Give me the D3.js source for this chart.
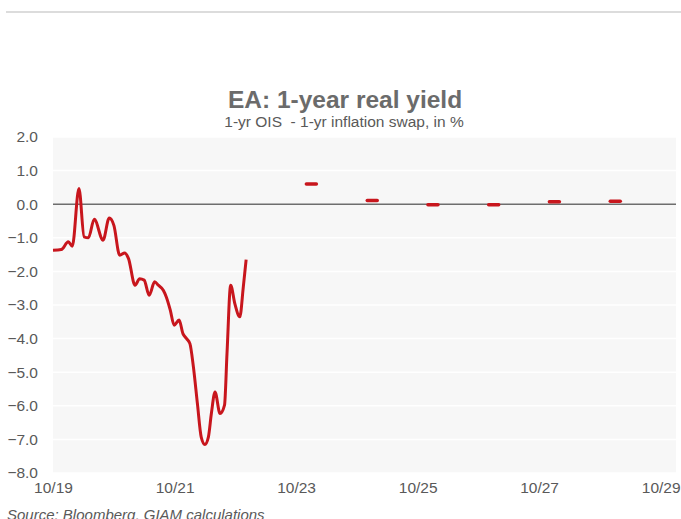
<!DOCTYPE html>
<html>
<head>
<meta charset="utf-8">
<script src="https://cdn.jsdelivr.net/npm/d3@7/dist/d3.min.js"></script>
<style>
  html, body { margin: 0; padding: 0; background: #ffffff; }
  svg { display: block; font-family: "Liberation Sans", Arial, sans-serif; }
</style>
</head>
<body>
<svg id="chart" width="681" height="519"></svg>
<script>
// ---- data ----
const histDates = ["2019-10-01","2019-11-20","2020-01-01","2020-01-25","2020-03-05","2020-04-05","2020-05-01","2020-06-05","2020-07-28","2020-09-03","2020-10-01","2020-11-05","2020-12-05","2020-12-28","2021-02-05","2021-03-05","2021-04-01","2021-05-01","2021-06-03","2021-06-25","2021-07-25","2021-08-12","2021-09-05","2021-09-28","2021-10-28","2021-11-20","2021-12-12","2022-01-01","2022-01-22","2022-02-15","2022-03-10","2022-04-01","2022-04-22","2022-05-10","2022-06-01","2022-07-01","2022-07-28","2022-08-12","2022-09-03","2022-09-28","2022-10-28","2022-11-18","2022-12-05"];
const histValues = [-1.37,-1.35,-1.12,-1.25,0.47,-0.97,-1.00,-0.45,-1.07,-0.41,-0.63,-1.52,-1.45,-1.62,-2.41,-2.22,-2.26,-2.71,-2.31,-2.41,-2.56,-2.76,-3.15,-3.60,-3.45,-3.85,-4.00,-4.15,-4.84,-5.93,-6.93,-7.15,-6.93,-6.23,-5.59,-6.23,-5.98,-4.44,-2.41,-2.96,-3.35,-2.46,-1.65];
const fwdDates = ["2024-01-01","2025-01-01","2026-01-01","2027-01-01","2028-01-01","2029-01-01"];
const fwdValues = [0.60, 0.11, -0.02, -0.02, 0.07, 0.09];
const yTicks = [2, 1, 0, -1, -2, -3, -4, -5, -6, -7, -8];
const xTickDates = ["2019-10-01","2021-10-01","2023-10-01","2025-10-01","2027-10-01","2029-10-01"];
const xDomain = ["2019-10-01", "2030-01-01"];
const yDomain = [-8, 2];
const titleText = "EA: 1-year real yield";
const subtitleText = "1-yr OIS  - 1-yr inflation swap, in %";
const sourceText = "Source: Bloomberg, GIAM calculations";

// ---- layout ----
const parse = d3.utcParse("%Y-%m-%d");
const svg = d3.select("#chart");
const L = 53, R = 676, T = 137, B = 473;

const x = d3.scaleUtc().domain(xDomain.map(parse)).range([L, R]);
const y = d3.scaleLinear().domain(yDomain).range([B, T]);

// top rule
svg.append("line").attr("x1", 6).attr("x2", 681).attr("y1", 12).attr("y2", 12)
  .attr("stroke", "#dcdcdc").attr("stroke-width", 2);

// title
svg.append("text").attr("x", 345).attr("y", 108).attr("text-anchor", "middle")
  .attr("font-size", 24.5).attr("font-weight", "bold").attr("fill", "#6b6b6b").text(titleText);
svg.append("text").attr("x", 344).attr("y", 127).attr("text-anchor", "middle")
  .style("white-space", "pre")
  .attr("font-size", 15.5).attr("fill", "#595959").text(subtitleText);

// plot background
svg.append("rect").attr("x", L).attr("y", T).attr("width", R - L).attr("height", B - T)
  .attr("fill", "#f7f7f7");

// gridlines
svg.append("g").selectAll("line").data(yTicks.filter(v => v !== 0)).join("line")
  .attr("x1", L).attr("x2", R).attr("y1", d => y(d)).attr("y2", d => y(d))
  .attr("stroke", "#ffffff").attr("stroke-width", 1.5);

// y axis labels
const yAxis = d3.axisLeft(y).tickValues(yTicks).tickFormat(d3.format(".1f")).tickSize(0).tickPadding(0);
const gy = svg.append("g").attr("transform", `translate(38,0)`).call(yAxis);
gy.select(".domain").remove();
gy.selectAll("text").attr("font-size", 15.5).attr("fill", "#595959")
  .attr("font-family", "'Liberation Sans', Arial, sans-serif");

// x axis labels
const xAxis = d3.axisBottom(x).tickValues(xTickDates.map(parse)).tickFormat(d3.utcFormat("%m/%y")).tickSize(0).tickPadding(0);
const gx = svg.append("g").attr("transform", `translate(0,${B + 9})`).call(xAxis);
gx.select(".domain").remove();
gx.selectAll("text").attr("font-size", 15.5).attr("fill", "#595959")
  .attr("font-family", "'Liberation Sans', Arial, sans-serif");

// zero line
svg.append("line").attr("x1", L).attr("x2", R).attr("y1", y(0)).attr("y2", y(0))
  .attr("stroke", "#6e6e6e").attr("stroke-width", 1.5);

// historical line
const hist = histDates.map((d, i) => ({ date: parse(d), value: histValues[i] }));
const line = d3.line().x(d => x(d.date)).y(d => y(d.value)).curve(d3.curveMonotoneX);
svg.append("path").datum(hist).attr("d", line)
  .attr("fill", "none").attr("stroke", "#c8161d").attr("stroke-width", 3)
  .attr("stroke-linejoin", "round");

// forward dashes
const fwd = fwdDates.map((d, i) => ({ date: parse(d), value: fwdValues[i] }));
svg.append("g").selectAll("line").data(fwd).join("line")
  .attr("x1", d => x(d.date) - 5).attr("x2", d => x(d.date) + 5)
  .attr("y1", d => y(d.value)).attr("y2", d => y(d.value))
  .attr("stroke", "#c8161d").attr("stroke-width", 3.5).attr("stroke-linecap", "round");

// source
svg.append("text").attr("x", 7).attr("y", 520).attr("font-size", 15)
  .attr("font-style", "italic").attr("fill", "#595959").text(sourceText);
</script>
</body>
</html>
